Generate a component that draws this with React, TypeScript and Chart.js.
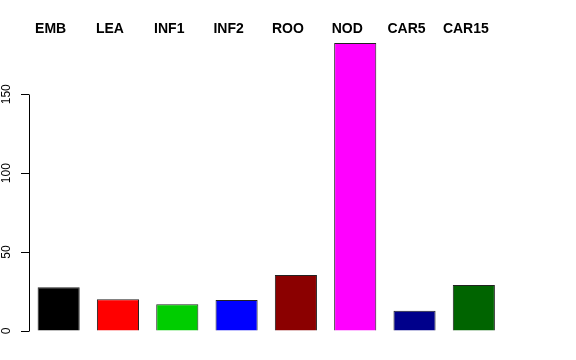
import React, { useEffect, useRef } from "react";
import { Chart, registerables } from "chart.js";

Chart.register(...registerables);

const categories = ["EMB", "LEA", "INF1", "INF2", "ROO", "NOD", "CAR5", "CAR15"];
const values = [27.7, 20.1, 16.9, 19.6, 35.5, 182.5, 12.9, 29.2];
const barColors = ["#000000", "#FF0000", "#00CD00", "#0000FF", "#8B0000", "#FF00FF", "#00008B", "#006400"];
const yTicks = [0, 50, 100, 150];
const yMax = 185;

const FONT = '"Liberation Sans", Arial, Helvetica, sans-serif';

export default function App() {
  const ref = useRef<HTMLCanvasElement>(null);

  useEffect(() => {
    if (!ref.current) return;
    const axisLine = {
      id: "axisLine",
      afterDraw(chart: any) {
        const ys = chart.scales.y;
        const ctx = chart.ctx;
        const x = Math.round(chart.chartArea.left) + 0.5;
        ctx.save();
        ctx.strokeStyle = "#000";
        ctx.lineWidth = 1;
        ctx.beginPath();
        ctx.moveTo(x, Math.round(ys.getPixelForValue(yTicks[0])) + 0.5);
        ctx.lineTo(x, Math.round(ys.getPixelForValue(yTicks[yTicks.length - 1])) + 0.5);
        ctx.stroke();
        ctx.restore();
      },
    };

    const chart = new Chart(ref.current, {
      type: "bar",
      data: {
        labels: categories,
        datasets: [
          {
            data: values,
            backgroundColor: barColors,
            borderColor: "#222222",
            borderWidth: 1,
            categoryPercentage: 1,
            barPercentage: 0.71,
          },
        ],
      },
      options: {
        animation: false,
        responsive: true,
        maintainAspectRatio: false,
        layout: { padding: { left: 0, right: 72.5, top: 0, bottom: 29 } },
        plugins: { legend: { display: false }, tooltip: { enabled: false } },
        scales: {
          x: {
            position: "top",
            grid: { display: false, drawTicks: false },
            border: { display: false },
            afterFit: (s: any) => {
              s.height = 39;
            },
            ticks: {
              color: "#000",
              font: { family: FONT, size: 14, weight: "bold" },
              padding: 1,
              labelOffset: -8,
              autoSkip: false,
              maxRotation: 0,
              minRotation: 0,
            },
          },
          y: {
            min: 0,
            max: yMax,
            afterFit: (s: any) => {
              s.width = 29;
            },
            afterBuildTicks: (s: any) => {
              s.ticks = yTicks.map((v) => ({ value: v }));
            },
            grid: {
              display: true,
              drawOnChartArea: false,
              drawTicks: true,
              tickLength: 8,
              color: "#000",
            },
            border: { display: false },
            ticks: {
              color: "#000",
              font: { family: FONT, size: 12 },
              minRotation: 90,
              maxRotation: 90,
              crossAlign: "center",
              padding: 4,
            },
          },
        },
      },
      plugins: [axisLine],
    });
    return () => chart.destroy();
  }, []);

  return (
    <div style={{ position: "fixed", left: 0, top: 0, width: 576, height: 360, background: "#fff" }}>
      <canvas ref={ref} />
    </div>
  );
}
